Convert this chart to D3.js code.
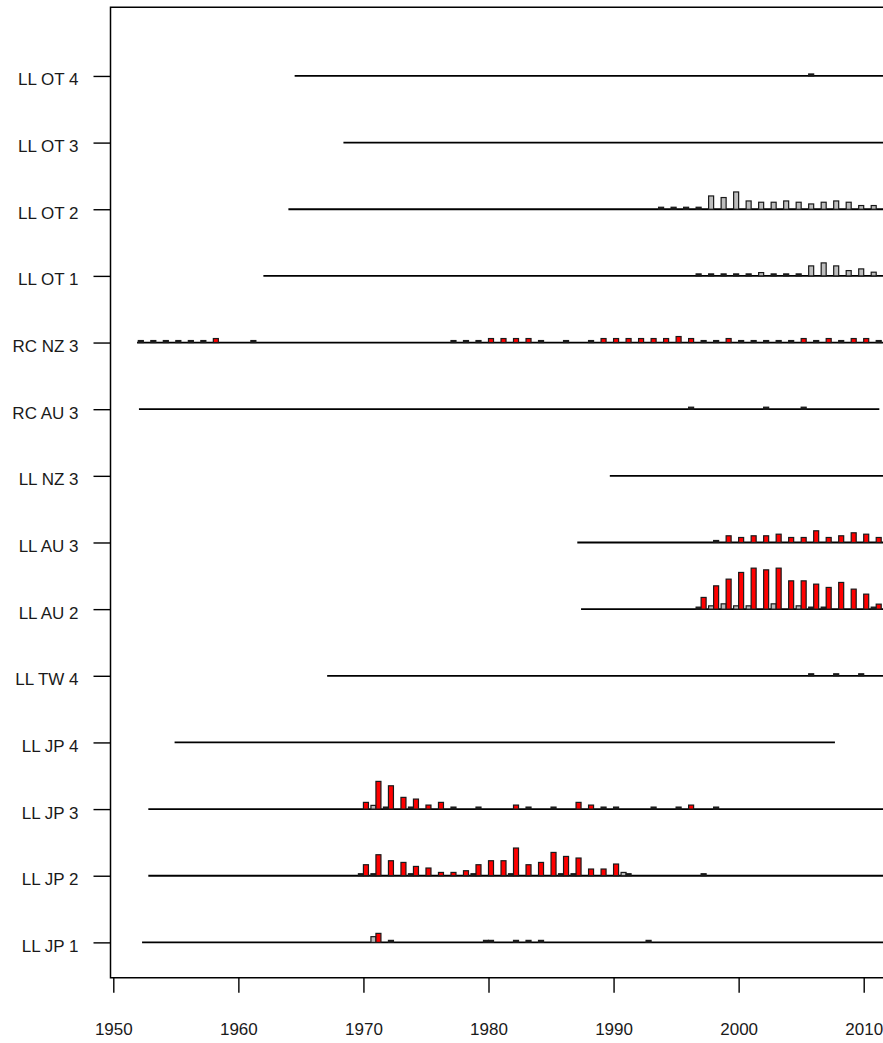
<!DOCTYPE html>
<html>
<head>
<meta charset="utf-8">
<script src="https://cdn.jsdelivr.net/npm/d3@7"></script>
<style>
  body { margin: 0; background: #fff; }
  text { font-family: "Liberation Sans", Arial, sans-serif; fill: #1a1a1a; }
</style>
</head>
<body>
<div id="drawingArea"></div>
<script>
// fleets, bottom row first
var fleets = ["LL JP 1", "LL JP 2", "LL JP 3", "LL JP 4", "LL TW 4", "LL AU 2", "LL AU 3",
              "LL NZ 3", "RC AU 3", "RC NZ 3", "LL OT 1", "LL OT 2", "LL OT 3", "LL OT 4"];

// years each fishery line covers
var lineStart = [1952.3, 1952.8, 1952.8, 1954.9, 1967.1, 1987.4, 1987.1,
                 1989.7, 1952.05, 1951.9, 1962.0, 1964.0, 1968.4, 1964.5];
var lineEnd   = [2012.5, 2012.5, 2012.5, 2007.7, 2012.5, 2012.5, 2012.5,
                 2012.5, 2011.25, 2012.5, 2012.5, 2012.5, 2012.5, 2012.5];

var xTicks = [1950, 1960, 1970, 1980, 1990, 2000, 2010];

// [fleet, year, value] - grey series (left of year)
var greyBars = [
  ["LL JP 1", 1971, 5.7], ["LL JP 1", 1980, 0], ["LL JP 1", 1993, 0],
  ["LL JP 2", 1970, 0], ["LL JP 2", 1971, 0], ["LL JP 2", 1974, 0], ["LL JP 2", 1979, 0],
  ["LL JP 2", 1982, 0], ["LL JP 2", 1986, 0], ["LL JP 2", 1987, 0], ["LL JP 2", 1991, 3.3],
  ["LL JP 3", 1971, 3.7], ["LL JP 3", 1972, 0], ["LL JP 3", 1974, 0],
  ["LL AU 2", 1997, 0], ["LL AU 2", 1998, 3.3], ["LL AU 2", 1999, 5.3], ["LL AU 2", 2000, 3.3],
  ["LL AU 2", 2001, 3.3], ["LL AU 2", 2003, 5.3], ["LL AU 2", 2005, 3.3], ["LL AU 2", 2006, 0],
  ["LL AU 2", 2007, 0], ["LL AU 2", 2011, 0],
  ["LL TW 4", 2006, 0], ["LL TW 4", 2008, 0], ["LL TW 4", 2010, 0],
  ["LL OT 1", 1997, 0], ["LL OT 1", 1998, 0], ["LL OT 1", 1999, 0], ["LL OT 1", 2000, 0],
  ["LL OT 1", 2001, 0], ["LL OT 1", 2002, 3.3], ["LL OT 1", 2003, 0], ["LL OT 1", 2004, 0],
  ["LL OT 1", 2005, 0], ["LL OT 1", 2006, 10], ["LL OT 1", 2007, 13], ["LL OT 1", 2008, 10],
  ["LL OT 1", 2009, 5.3], ["LL OT 1", 2010, 7], ["LL OT 1", 2011, 3.7],
  ["LL OT 2", 1994, 0], ["LL OT 2", 1995, 0], ["LL OT 2", 1996, 0], ["LL OT 2", 1997, 0],
  ["LL OT 2", 1998, 13.3], ["LL OT 2", 1999, 11.7], ["LL OT 2", 2000, 17.3], ["LL OT 2", 2001, 8.3],
  ["LL OT 2", 2002, 7], ["LL OT 2", 2003, 7], ["LL OT 2", 2004, 8.3], ["LL OT 2", 2005, 7],
  ["LL OT 2", 2006, 5.3], ["LL OT 2", 2007, 7], ["LL OT 2", 2008, 8.3], ["LL OT 2", 2009, 7],
  ["LL OT 2", 2010, 3.7], ["LL OT 2", 2011, 3.7],
  ["LL OT 4", 2006, 0]
];

// [fleet, year, value] - red series (right of year)
var redBars = [
  ["LL JP 1", 1971, 9], ["LL JP 1", 1972, 0], ["LL JP 1", 1980, 0], ["LL JP 1", 1982, 0],
  ["LL JP 1", 1983, 0], ["LL JP 1", 1984, 0],
  ["LL JP 2", 1970, 11], ["LL JP 2", 1971, 21], ["LL JP 2", 1972, 15], ["LL JP 2", 1973, 13.3],
  ["LL JP 2", 1974, 9.3], ["LL JP 2", 1975, 7.7], ["LL JP 2", 1976, 3.3], ["LL JP 2", 1977, 3.3],
  ["LL JP 2", 1978, 5], ["LL JP 2", 1979, 11], ["LL JP 2", 1980, 15], ["LL JP 2", 1981, 15],
  ["LL JP 2", 1982, 27.7], ["LL JP 2", 1983, 11], ["LL JP 2", 1984, 13.3], ["LL JP 2", 1985, 23.3],
  ["LL JP 2", 1986, 19.3], ["LL JP 2", 1987, 17.7], ["LL JP 2", 1988, 6.7], ["LL JP 2", 1989, 6.7],
  ["LL JP 2", 1990, 11.7], ["LL JP 2", 1991, 0], ["LL JP 2", 1997, 0],
  ["LL JP 3", 1970, 6.7], ["LL JP 3", 1971, 27.7], ["LL JP 3", 1972, 23.3], ["LL JP 3", 1973, 11.7],
  ["LL JP 3", 1974, 10], ["LL JP 3", 1975, 4], ["LL JP 3", 1976, 6.7], ["LL JP 3", 1977, 0],
  ["LL JP 3", 1979, 0], ["LL JP 3", 1982, 4], ["LL JP 3", 1983, 0], ["LL JP 3", 1985, 0],
  ["LL JP 3", 1987, 6.7], ["LL JP 3", 1988, 4], ["LL JP 3", 1989, 0], ["LL JP 3", 1990, 0],
  ["LL JP 3", 1993, 0], ["LL JP 3", 1995, 0], ["LL JP 3", 1996, 4], ["LL JP 3", 1998, 0],
  ["LL AU 2", 1997, 11.7], ["LL AU 2", 1998, 23.3], ["LL AU 2", 1999, 30], ["LL AU 2", 2000, 36.7],
  ["LL AU 2", 2001, 41], ["LL AU 2", 2002, 39.3], ["LL AU 2", 2003, 41], ["LL AU 2", 2004, 28.3],
  ["LL AU 2", 2005, 28.3], ["LL AU 2", 2006, 25], ["LL AU 2", 2007, 21.7], ["LL AU 2", 2008, 26.7],
  ["LL AU 2", 2009, 20], ["LL AU 2", 2010, 15], ["LL AU 2", 2011, 5],
  ["LL AU 3", 1998, 0], ["LL AU 3", 1999, 6.7], ["LL AU 3", 2000, 5], ["LL AU 3", 2001, 6.7],
  ["LL AU 3", 2002, 6.7], ["LL AU 3", 2003, 8.3], ["LL AU 3", 2004, 5], ["LL AU 3", 2005, 5],
  ["LL AU 3", 2006, 11.7], ["LL AU 3", 2007, 5], ["LL AU 3", 2008, 6.7], ["LL AU 3", 2009, 9.7],
  ["LL AU 3", 2010, 8.3], ["LL AU 3", 2011, 5],
  ["RC AU 3", 1996, 0], ["RC AU 3", 2002, 0], ["RC AU 3", 2005, 0],
  ["RC NZ 3", 1952, 0], ["RC NZ 3", 1953, 0], ["RC NZ 3", 1954, 0], ["RC NZ 3", 1955, 0],
  ["RC NZ 3", 1956, 0], ["RC NZ 3", 1957, 0], ["RC NZ 3", 1958, 4], ["RC NZ 3", 1961, 0],
  ["RC NZ 3", 1977, 0], ["RC NZ 3", 1978, 0], ["RC NZ 3", 1979, 0], ["RC NZ 3", 1980, 4],
  ["RC NZ 3", 1981, 4], ["RC NZ 3", 1982, 4], ["RC NZ 3", 1983, 4], ["RC NZ 3", 1984, 0],
  ["RC NZ 3", 1986, 0], ["RC NZ 3", 1988, 0], ["RC NZ 3", 1989, 4], ["RC NZ 3", 1990, 4],
  ["RC NZ 3", 1991, 4], ["RC NZ 3", 1992, 4], ["RC NZ 3", 1993, 4], ["RC NZ 3", 1994, 4],
  ["RC NZ 3", 1995, 6], ["RC NZ 3", 1996, 4], ["RC NZ 3", 1997, 0], ["RC NZ 3", 1998, 0],
  ["RC NZ 3", 1999, 4], ["RC NZ 3", 2000, 0], ["RC NZ 3", 2001, 0], ["RC NZ 3", 2002, 0],
  ["RC NZ 3", 2003, 0], ["RC NZ 3", 2004, 0], ["RC NZ 3", 2005, 4], ["RC NZ 3", 2006, 0],
  ["RC NZ 3", 2007, 4], ["RC NZ 3", 2008, 0], ["RC NZ 3", 2009, 4], ["RC NZ 3", 2010, 4],
  ["RC NZ 3", 2011, 0]
];

var width = 883, height = 1043;
var plot = {left: 110.5, top: 7.3, bottom: 977.7};
var barWidth = 0.4;   // in years
var outline = "#1a1a1a";

// set the ranges
var x = d3.scaleLinear()
    .domain([1950, 2010])
    .range([113.3, 863.7]);

var y = d3.scaleLinear()
    .domain([0.47, 15.03])
    .range([plot.bottom, plot.top]);

// bar height, value -> fraction of a row
var h = d3.scaleLinear()
    .domain([0, 41])
    .range([0, 0.615]);

function rowOf(name) { return fleets.indexOf(name) + 1; }

// zero bars still show as a flat dark dash
function barHeight(d) {
    var r = rowOf(d[0]);
    return Math.max(y(r) - y(r + h(d[2])), 2);
}
function barTop(d) {
    return y(rowOf(d[0])) - barHeight(d);
}

var svg = d3.select("#drawingArea").append("svg")
    .attr("width", width)
    .attr("height", height);

// fishery lines
svg.append("g")
  .selectAll("line")
  .data(fleets)
  .enter().append("line")
    .attr("x1", function(d, i) { return x(lineStart[i]); })
    .attr("x2", function(d, i) { return x(lineEnd[i]); })
    .attr("y1", function(d, i) { return y(i + 1); })
    .attr("y2", function(d, i) { return y(i + 1); })
    .attr("stroke", "#000")
    .attr("stroke-width", 1.8);

// grey bars sit left of the year
svg.append("g")
  .selectAll("rect")
  .data(greyBars)
  .enter().append("rect")
    .attr("x", function(d) { return x(d[1] - barWidth); })
    .attr("width", function(d) { return x(d[1]) - x(d[1] - barWidth); })
    .attr("y", barTop)
    .attr("height", barHeight)
    .attr("fill", function(d) { return d[2] > 0 ? "#bebebe" : outline; })
    .attr("stroke", outline)
    .attr("stroke-width", 1.2);

// red bars sit right of the year
svg.append("g")
  .selectAll("rect")
  .data(redBars)
  .enter().append("rect")
    .attr("x", function(d) { return x(d[1]); })
    .attr("width", function(d) { return x(d[1] + barWidth) - x(d[1]); })
    .attr("y", barTop)
    .attr("height", barHeight)
    .attr("fill", function(d) { return d[2] > 0 ? "#ff0000" : outline; })
    .attr("stroke", outline)
    .attr("stroke-width", 1.2);

// plot box (right side runs off the picture)
svg.append("path")
    .attr("d", "M" + (width + 20) + "," + plot.top + "H" + plot.left + "V" + plot.bottom + "H" + (width + 20))
    .attr("fill", "none")
    .attr("stroke", "#000")
    .attr("stroke-width", 1.5);

// x axis
var xAxis = svg.append("g")
    .attr("transform", "translate(0," + plot.bottom + ")")
    .call(d3.axisBottom(x)
        .tickValues(xTicks)
        .tickFormat(d3.format("d"))
        .tickSize(15)
        .tickSizeOuter(0));
xAxis.select(".domain").remove();
xAxis.selectAll("line").attr("stroke", "#000").attr("stroke-width", 1.4);
xAxis.selectAll("text")
    .attr("y", 0)
    .attr("dy", 0)
    .attr("transform", "translate(0,57)")
    .style("font-size", "17px")
    .style("font-family", "'Liberation Sans', Arial, sans-serif")
    .attr("fill", "#1a1a1a");

// y axis
var yAxis = svg.append("g")
    .attr("transform", "translate(" + plot.left + ",0)")
    .call(d3.axisLeft(y)
        .tickValues(d3.range(1, fleets.length + 1))
        .tickFormat(function(d) { return fleets[d - 1]; })
        .tickSize(17)
        .tickSizeOuter(0));
yAxis.select(".domain").remove();
yAxis.selectAll("line").attr("stroke", "#000").attr("stroke-width", 1.4);
yAxis.selectAll("text")
    .attr("x", -32)
    .attr("dy", 0)
    .attr("y", 9)
    .style("font-size", "17px")
    .style("font-family", "'Liberation Sans', Arial, sans-serif")
    .attr("fill", "#1a1a1a");
</script>
</body>
</html>
